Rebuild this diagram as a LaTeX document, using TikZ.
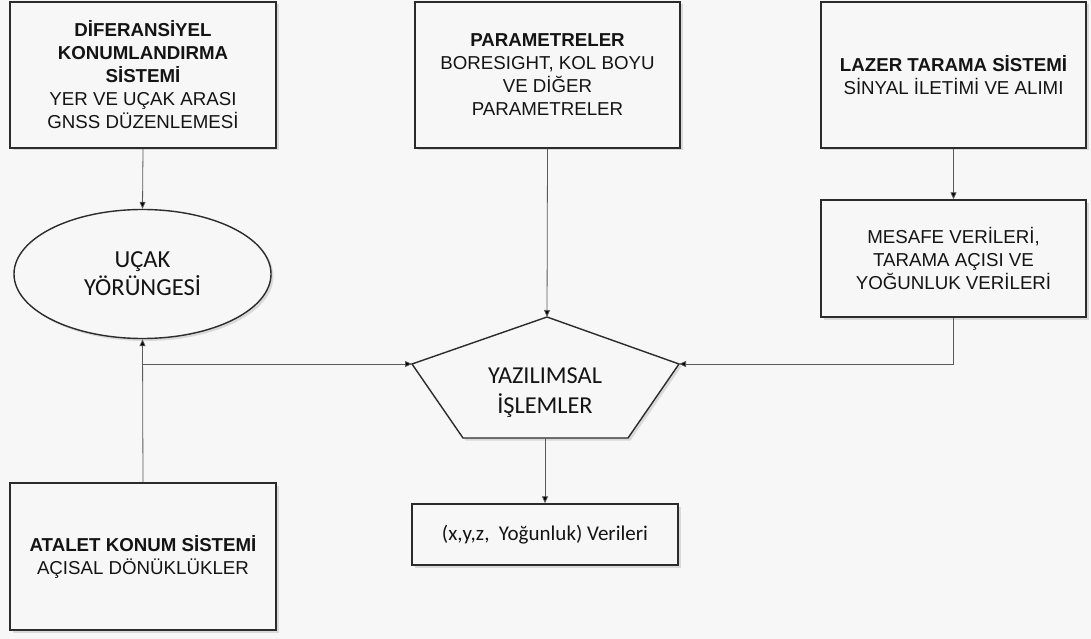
\documentclass[tikz,border=0pt]{standalone}
\usepackage{fontspec}
\setmainfont{Liberation Sans}
\newfontfamily\calib{Carlito}
\usetikzlibrary{shapes.geometric,arrows.meta,shadows}
\definecolor{bg}{HTML}{F7F7F7}
\definecolor{edgec}{HTML}{2B2B2B}
\definecolor{connc}{HTML}{5A5A5A}
\definecolor{txt}{HTML}{141414}
\begin{document}
\begin{tikzpicture}[x=1pt,y=-1pt,
  shade/.style={drop shadow={shadow xshift=2.5pt,shadow yshift=-2.5pt,opacity=0.25}},
  box/.style={draw=edgec,line width=1.4pt,fill=bg,align=center,inner sep=0pt,shade,
    text=txt,font=\fontsize{18.7}{23}\selectfont},
  conn/.style={draw=connc,line width=0.8pt,-{Triangle[length=7pt,width=6pt,fill=black]}}]
\fill[bg] (0,0) rectangle (1091,639);
\useasboundingbox (0,0) rectangle (1091,639);

\node[box,minimum width=266pt,minimum height=146pt] (dgps) at (143,75)
  {\textbf{DİFERANSİYEL}\\\textbf{KONUMLANDIRMA}\\\textbf{SİSTEMİ}\\YER VE UÇAK ARASI\\GNSS DÜZENLEMESİ};
\node[box,minimum width=265pt,minimum height=146pt] (param) at (547.5,75)
  {\textbf{PARAMETRELER}\\BORESIGHT, KOL BOYU\\VE DİĞER\\PARAMETRELER};
\node[box,minimum width=265pt,minimum height=146pt] (laser) at (953.5,75)
  {\textbf{LAZER TARAMA SİSTEMİ}\\SİNYAL İLETİMİ VE ALIMI};
\node[box,minimum width=265pt,minimum height=117pt] (mes) at (953.5,258.5)
  {MESAFE VERİLERİ,\\TARAMA AÇISI VE\\YOĞUNLUK VERİLERİ};
\node[box,minimum width=266pt,minimum height=147pt] (ins) at (143,556.5)
  {\textbf{ATALET KONUM SİSTEMİ}\\AÇISAL DÖNÜKLÜKLER};
\node[box,minimum width=266pt,minimum height=61pt,font=\calib\fontsize{21}{25}\selectfont] (res) at (545,534.5)
  {(x,y,z,\ \ Yoğunluk) Verileri};
\node[ellipse,draw=edgec,line width=1.4pt,fill=bg,inner sep=0pt,minimum width=257pt,minimum height=129pt,
  shade,align=center,text=txt,font=\calib\fontsize{24.5}{28}\selectfont] (ell) at (142.5,274)
  {UÇAK\\YÖRÜNGESİ};

\coordinate (pt) at (547,317);
\coordinate (pl) at (412,364);
\coordinate (pr) at (679,364);
\coordinate (pbr) at (628,438);
\coordinate (pbl) at (463,438);
\filldraw[draw=edgec,fill=bg,line width=1.4pt,line join=miter,shade] (pt) -- (pr) -- (pbr) -- (pbl) -- (pl) -- cycle;
\node[align=center,text=txt,font=\calib\fontsize{24.3}{30}\selectfont] (soft) at (545,393) {YAZILIMSAL\\İŞLEMLER};
\coordinate (pb) at (545,438);
\coordinate (j) at (143,364);

\draw[conn] (dgps.south) -- (ell.north);
\draw[conn] (param.south) -- (pt);
\draw[conn] (laser.south) -- (mes.north);
\draw[conn] (mes.south) |- (pr);
\draw[conn] (ins.north) -- (ell.south);
\draw[conn] (j) -- (pl);
\draw[conn] (pb) -- (res.north);
\end{tikzpicture}
\end{document}
